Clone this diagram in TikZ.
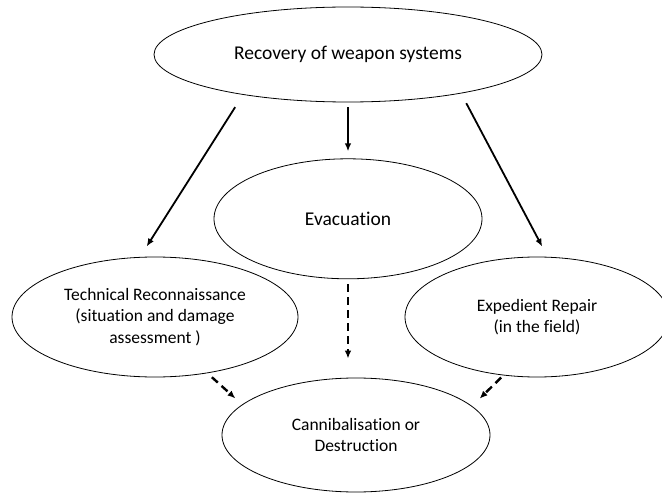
\documentclass[tikz,border=0pt]{standalone}
\usepackage{fontspec}
\setmainfont{Carlito}[Ligatures=NoCommon]
\usetikzlibrary{positioning,shapes.geometric,arrows.meta}

\begin{document}
\begin{tikzpicture}[x=1pt, y=1pt,
    oval/.style={draw, ellipse, inner sep=0pt, line width=0.8pt, align=center, font=\fontsize{17.5}{21.5}\selectfont},
    bigoval/.style={oval, font=\fontsize{19.5}{23}\selectfont},
    solidarrow/.style={-{Latex[length=8pt,width=6.5pt]}, line width=1.8pt},
    dasharrow/.style={solidarrow, dash pattern=on 8pt off 5pt, line width=2.4pt}]
    \useasboundingbox (0,0) rectangle (662,-495);
    \node [bigoval, minimum width=388pt, minimum height=95pt] (recovery) at (348,-54.5) {Recovery of weapon systems};
    \node [bigoval, minimum width=268pt, minimum height=120pt, below=56pt of recovery] (evacuation) {Evacuation};
    \node [oval, minimum width=286pt, minimum height=120pt] (recon) at (155,-317) {Technical Reconnaissance\\(situation and damage\\assessment )};
    \node [oval, minimum width=264pt, minimum height=120pt] (repair) at (537,-317) {Expedient Repair\\(in the field)};
    \node [oval, minimum width=268pt, minimum height=114pt] (cannibal) at (356,-435) {Cannibalisation or\\Destruction};
    \draw [solidarrow, shorten <=14.6pt, shorten >=12.3pt] (recovery.201) -- (recon.104);
    \draw [solidarrow, shorten <=5pt, shorten >=7pt] (recovery.south) -- (evacuation.north);
    \draw [solidarrow, shorten <=11pt, shorten >=11.5pt] (recovery.341) -- (repair.80);
    \draw [dasharrow, shorten <=5pt, shorten >=19pt] (evacuation.south) -- (evacuation.south |- cannibal.north);
    \draw [dasharrow, shorten <=6pt, shorten >=9pt] (recon.313) -- (cannibal.165);
    \draw [dasharrow, shorten <=3pt, shorten >=10.5pt] (repair.240) -- (cannibal.14);
\end{tikzpicture}
\end{document}
